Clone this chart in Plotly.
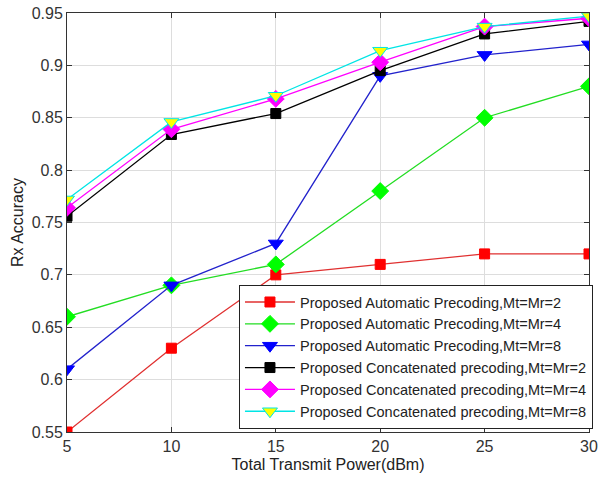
import plotly.graph_objects as go

x_power = [5, 10, 15, 20, 25, 30]
auto_m2 = [0.55, 0.63, 0.70, 0.71, 0.72, 0.72]
auto_m4 = [0.66, 0.69, 0.71, 0.78, 0.85, 0.88]
auto_m8 = [0.61, 0.69, 0.73, 0.89, 0.91, 0.92]
conc_m2 = [0.756, 0.834, 0.854, 0.895, 0.930, 0.942]
conc_m4 = [0.764, 0.839, 0.868, 0.903, 0.937, 0.945]
conc_m8 = [0.772, 0.846, 0.871, 0.914, 0.937, 0.947]
y_ticks = [0.55, 0.6, 0.65, 0.7, 0.75, 0.8, 0.85, 0.9, 0.95]
y_tick_labels = ["0.55", "0.6", "0.65", "0.7", "0.75", "0.8", "0.85", "0.9", "0.95"]

names = [
    "Proposed Automatic Precoding,Mt=Mr=2",
    "Proposed Automatic Precoding,Mt=Mr=4",
    "Proposed Automatic Precoding,Mt=Mr=8",
    "Proposed Concatenated precoding,Mt=Mr=2",
    "Proposed Concatenated precoding,Mt=Mr=4",
    "Proposed Concatenated precoding,Mt=Mr=8",
]
series = [auto_m2, auto_m4, auto_m8, conc_m2, conc_m4, conc_m8]
line_colors = ["#e03030", "#22dd22", "#2222cc", "#000000", "#ff00ff", "#00e5e5"]
marker_fill = ["#ff0000", "#00ff00", "#0000ff", "#000000", "#ff00ff", "#ffff00"]
marker_line = ["#ff0000", "#00ff00", "#0000ff", "#000000", "#ff00ff", "#00e5e5"]
symbols = ["square", "diamond", "triangle-down", "square", "diamond", "triangle-down"]
sizes = [10, 13, 13, 10, 13, 13]

fig = go.Figure()
for n, s, lc, mf, ml, sym, sz in zip(names, series, line_colors, marker_fill, marker_line, symbols, sizes):
    fig.add_trace(go.Scatter(
        x=x_power, y=s, name=n, mode="lines+markers",
        line=dict(color=lc, width=1.3),
        marker=dict(symbol=sym, size=sz, color=mf, line=dict(color=ml, width=1)),
    ))

axis_common = dict(
    showline=True, linecolor="#333333", linewidth=1, mirror="ticks",
    ticks="inside", ticklen=5, tickcolor="#333333",
    showgrid=True, gridcolor="#dddddd", gridwidth=1, zeroline=False,
    tickfont=dict(size=16, color="#333333"), automargin=False,
)

fig.update_layout(
    width=603, height=485,
    margin=dict(l=67, r=10, t=13, b=53),
    paper_bgcolor="white", plot_bgcolor="white",
    font=dict(family="Arial, Liberation Sans, sans-serif", color="#222222"),
    xaxis=dict(range=[5, 30], tickvals=x_power,
               title=dict(text="Total Transmit Power(dBm)", font=dict(size=16), standoff=4),
               **axis_common),
    yaxis=dict(range=[0.55, 0.95], tickvals=y_ticks, ticktext=y_tick_labels,
               title=dict(text="Rx Accuracy", font=dict(size=16), standoff=4),
               **axis_common),
    legend=dict(x=1.0076, xanchor="right", y=0.007, yanchor="bottom",
                bgcolor="white", bordercolor="#222222", borderwidth=1,
                font=dict(size=14.5, color="#222222"), itemwidth=50,
                tracegroupgap=0),
    showlegend=True,
)

# remove the browser's default 8px body margin so the figure sits at the page origin
fig.write_html("out.html", config={"displayModeBar": False},
               post_script="document.body.style.margin='0';")
